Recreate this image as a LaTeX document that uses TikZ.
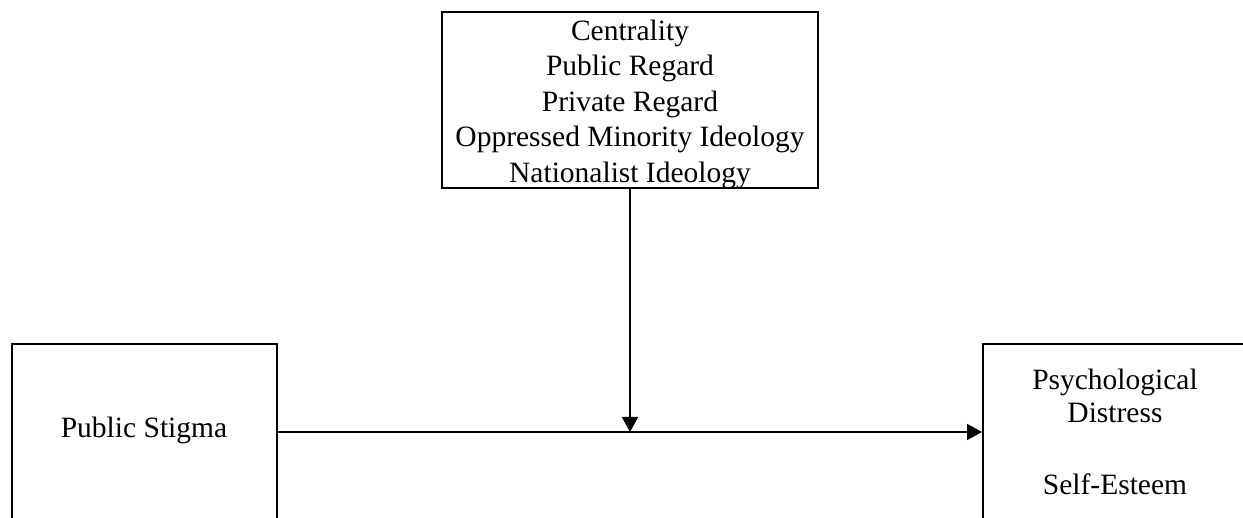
\documentclass[tikz,border=0pt]{standalone}
\usepackage{fontspec}
\setmainfont{Liberation Serif}
\usetikzlibrary{arrows.meta}
\begin{document}
\begin{tikzpicture}[x=1pt,y=-1pt,
  box/.style={draw,line width=2pt,inner sep=0pt},
  lbl/.style={font=\fontsize{29.5}{35.5}\selectfont,align=center,inner sep=0pt},
  arr/.style={line width=2pt,-{Triangle[length=15pt,width=16pt]}}]
\useasboundingbox (0,0) rectangle (1243,518);
\begin{scope}
  \clip (0,0) rectangle (1243,518);
  \node[box,minimum width=376pt,minimum height=176pt] (mod) at (630,100) {};
  \node[box,minimum width=265pt,minimum height=240pt] (ps) at (144.5,464) {};
  \node[box,minimum width=264pt,minimum height=240pt] (out) at (1115,464) {};
\end{scope}
\node[lbl] (modtext) at (630,104) {Centrality\\Public Regard\\Private Regard\\Oppressed Minority Ideology\\Nationalist Ideology};
\node[lbl,anchor=base] (pstext) at (144,438) {Public Stigma};
\node[lbl,anchor=base] (out1) at (1115,390) {Psychological};
\node[lbl,anchor=base] (out2) at (1115,423) {Distress};
\node[lbl,anchor=base] (out3) at (1115,495) {Self-Esteem};
\coordinate (mid) at (630,432);
\draw[arr] (ps.east |- mid) -- (out.west |- mid);
\draw[arr] (mod.south) -- (mid);
\end{tikzpicture}
\end{document}
